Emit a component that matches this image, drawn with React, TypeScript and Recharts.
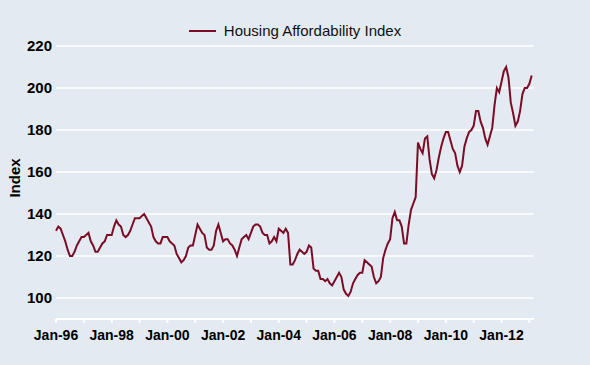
import { LineChart, Line, XAxis, YAxis, CartesianGrid } from 'recharts'

// ── Índice de asequibilidad de vivienda, mensual desde ene-96 ──
const affordability = [
  132, 134, 133, 130, 127, 123, 120, 120, 122, 125, 127, 129, // 1996
  129, 130, 131, 127, 125, 122, 122, 124, 126, 127, 130, 130, // 1997
  130, 134, 137, 135, 134, 130, 129, 130, 132, 135, 138, 138, // 1998
  138, 139, 140, 138, 136, 134, 129, 127, 126, 126, 129, 129, // 1999
  129, 127, 126, 125, 121, 119, 117, 118, 120, 124, 125, 125, // 2000
  130, 135, 133, 131, 130, 124, 123, 123, 125, 132, 135, 131, // 2001
  127, 128, 128, 126, 125, 123, 120, 124, 128, 129, 130, 128, // 2002
  131, 134, 135, 135, 134, 131, 130, 130, 126, 127, 129, 127, // 2003
  133, 132, 131, 133, 131, 116, 116, 118, 121, 123, 122, 121, // 2004
  122, 125, 124, 114, 113, 113, 109, 109, 108, 109, 107, 106, // 2005
  108, 110, 112, 110, 104, 102, 101, 103, 107, 109, 111, 112, // 2006
  112, 118, 117, 116, 115, 110, 107, 108, 110, 119, 123, 126, // 2007
  128, 138, 141, 137, 137, 134, 126, 126, 135, 142, 145, 148, // 2008
  174, 171, 169, 176, 177, 166, 159, 157, 161, 167, 172, 176, // 2009
  179, 179, 175, 171, 169, 163, 160, 163, 172, 176, 179, 180, // 2010
  182, 189, 189, 184, 181, 176, 173, 177, 181, 192, 200, 198, // 2011
  203, 208, 210, 205, 193, 188, 182, 184, 189, 197, 200, 200, // 2012
  202, 206, // 2013
]

const xTickLabels = ['Jan-96', 'Jan-98', 'Jan-00', 'Jan-02', 'Jan-04', 'Jan-06', 'Jan-08', 'Jan-10', 'Jan-12']
const yTicks = [100, 120, 140, 160, 180, 200, 220]

const LINE_COLOR = '#7B0C26'
const BG = '#E4EAF2'

const data = affordability.map((value, i) => ({ i, value }))
// una marca por año (cada 12 meses), etiqueta cada dos años
const yearTicks = Array.from({ length: 18 }, (_, k) => k * 12)
const fmtX = (v: number) => {
  const k = v / 12
  return k % 2 === 0 ? xTickLabels[k / 2] ?? '' : ''
}

const tickFont = { fill: '#000', fontSize: 14, fontWeight: 700, fontFamily: 'Liberation Sans, Arial, sans-serif' }

export default function App() {
  return (
    <div style={{ position: 'fixed', left: 0, top: 0, width: 590, height: 365, background: BG, fontFamily: 'Liberation Sans, Arial, sans-serif' }}>
      <div style={{ position: 'absolute', top: 20, left: 0, width: 590, display: 'flex', justifyContent: 'center', alignItems: 'center' }}>
        <span style={{ display: 'inline-block', width: 27, height: 2, background: LINE_COLOR, marginRight: 8 }} />
        <span style={{ fontSize: 15, color: '#111', lineHeight: '22px' }}>Housing Affordability Index</span>
      </div>
      <LineChart width={590} height={365} data={data} margin={{ top: 46, right: 56, left: 0, bottom: 16 }}>
        <CartesianGrid vertical={false} stroke="#FFFFFF" strokeWidth={1.5} />
        <XAxis
          dataKey="i"
          type="number"
          domain={[0, 206]}
          ticks={yearTicks}
          interval={0}
          tickFormatter={fmtX}
          height={30}
          axisLine={{ stroke: '#FFFFFF', strokeWidth: 2 }}
          tickLine={{ stroke: '#FFFFFF', strokeWidth: 2 }}
          tickSize={4}
          tickMargin={7}
          tick={tickFont}
        />
        <YAxis
          domain={[90, 220]}
          ticks={yTicks}
          width={56}
          axisLine={false}
          tickLine={false}
          tickSize={0}
          tickMargin={4}
          tick={{ ...tickFont, fontSize: 15 }}
          label={{
            content: () => (
              <text x={19.5} y={178} transform="rotate(-90, 19.5, 178)" textAnchor="middle" fontSize={15} fontWeight={700} fill="#000" fontFamily="Liberation Sans, Arial, sans-serif">
                Index
              </text>
            ),
          }}
        />
        <Line type="linear" dataKey="value" stroke={LINE_COLOR} strokeWidth={2} dot={false} isAnimationActive={false} />
      </LineChart>
    </div>
  )
}
